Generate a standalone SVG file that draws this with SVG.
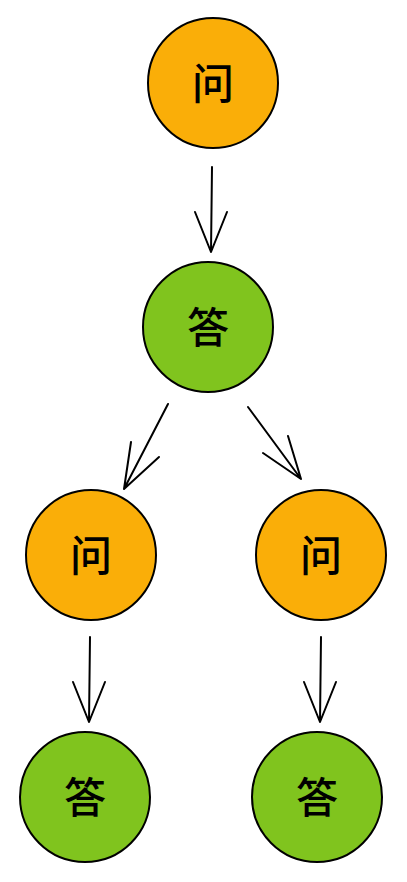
<svg xmlns="http://www.w3.org/2000/svg" width="407" height="882" viewBox="0 0 407 882">
  <style>
    .q { fill: #FAAE08; stroke: #000; stroke-width: 2; }
    .a { fill: #80C41E; stroke: #000; stroke-width: 2; }
    .lbl { font-family: "Noto Sans CJK SC", "Noto Sans", sans-serif; font-size: 42px; font-weight: 500; fill: #000; text-anchor: middle; dominant-baseline: central; }
    .edge { fill: none; stroke: #000; stroke-width: 2; stroke-linecap: round; stroke-linejoin: round; }
  </style>
  <rect width="407" height="882" fill="#fff"/>
  <g id="q1"><circle class="q" cx="213" cy="83" r="65"/><text class="lbl" x="213" y="80">问</text></g>
  <g id="a1"><circle class="a" cx="208" cy="327" r="65"/><text class="lbl" x="208" y="324">答</text></g>
  <g id="q2"><circle class="q" cx="91" cy="555" r="65"/><text class="lbl" x="91" y="552">问</text></g>
  <g id="q3"><circle class="q" cx="321" cy="555" r="65"/><text class="lbl" x="321" y="552">问</text></g>
  <g id="a2"><circle class="a" cx="85" cy="797" r="65"/><text class="lbl" x="85" y="794">答</text></g>
  <g id="a3"><circle class="a" cx="317" cy="797" r="65"/><text class="lbl" x="317" y="794">答</text></g>
  <g id="connectors">
    <path class="edge" d="M212 167 L211 252 M195 212 L211 252 L227 212"/>
    <path class="edge" d="M168 404 L124 489 M131 442 L124 489 L159 457"/>
    <path class="edge" d="M248 407 L301 479 M288 436 L301 479 L263 453"/>
    <path class="edge" d="M90 637 L89 722 M73 682 L89 722 L105 682"/>
    <path class="edge" d="M321 637 L320 722 M304 682 L320 722 L336 682"/>
  </g>
</svg>
